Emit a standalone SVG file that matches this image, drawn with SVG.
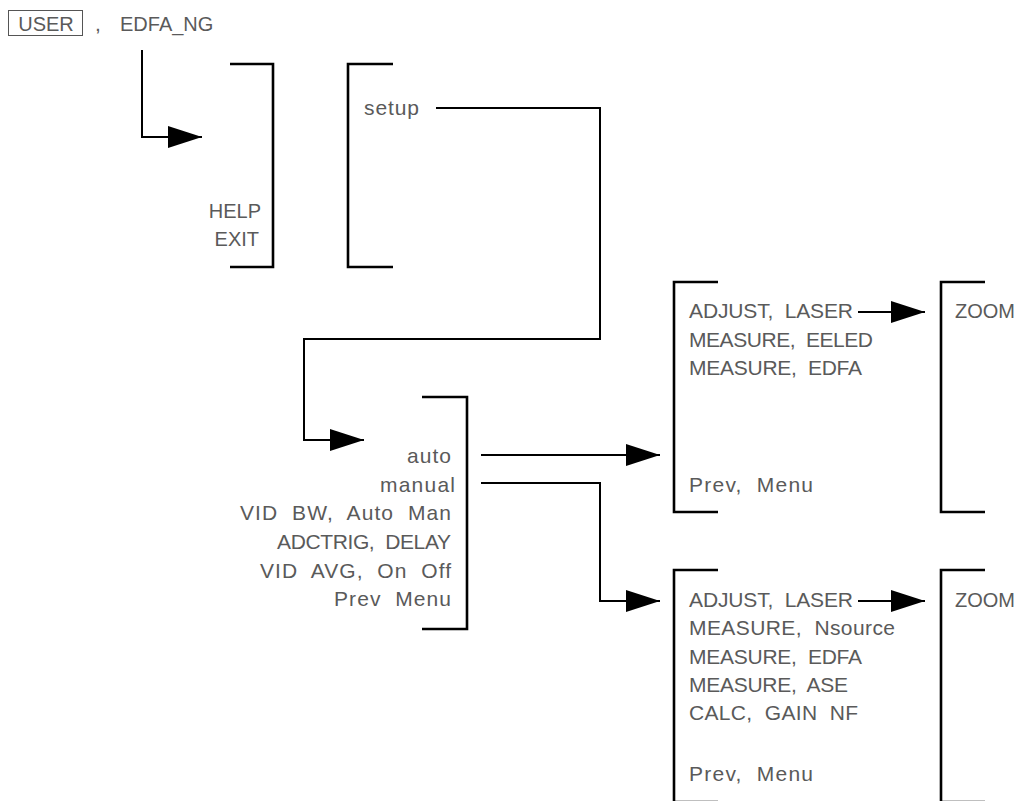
<svg xmlns="http://www.w3.org/2000/svg" width="1021" height="801" viewBox="0 0 1021 801">
<style>
text{font-family:"Liberation Sans",Arial,sans-serif;font-size:21px;fill:#5a5a5a;white-space:pre}
.s{font-size:20px}
.e{text-anchor:end}
.m{text-anchor:middle}
.br{fill:none;stroke:#000;stroke-width:2.6}
.cn{fill:none;stroke:#000;stroke-width:2}
</style>
<defs>
<marker id="ah" viewBox="0 0 34 22" refX="34" refY="11" markerWidth="34" markerHeight="22" markerUnits="userSpaceOnUse" orient="auto">
<path d="M0,0 L34,11 L0,22 Z" fill="#000"/>
</marker>
</defs>
<rect width="1021" height="801" fill="#fff"/>
<g id="title">
<rect x="8.5" y="10.5" width="74" height="25" fill="none" stroke="#555" stroke-width="1"/>
<text class="s m" x="46" y="31">USER</text>
<text x="95" y="31">,</text>
<text class="s" x="120" y="31">EDFA_NG</text>
</g>
<g id="menu-help">
<path class="br" d="M230,64 H273 V267 H230"/>
<text class="s e" x="261" y="218">HELP</text>
<text class="s e" x="259" y="246">EXIT</text>
</g>
<g id="menu-setup">
<path class="br" d="M393,64 H348 V267 H393"/>
<text x="364" y="115" textLength="55">setup</text>
</g>
<g id="menu-auto">
<path class="br" d="M422,397 H467 V629 H422"/>
<text class="e" x="451" y="463" textLength="44">auto</text>
<text class="e" x="455" y="492" textLength="75">manual</text>
<text class="e" x="451" y="520" textLength="211">VID  BW,  Auto  Man</text>
<text class="e" x="451" y="549" textLength="174">ADCTRIG,  DELAY</text>
<text class="e" x="451" y="578" textLength="191">VID  AVG,  On  Off</text>
<text class="e" x="451" y="606" textLength="117">Prev  Menu</text>
</g>
<g id="menu-auto-meas">
<path class="br" d="M718,282 H674 V512 H718"/>
<text x="689" y="318" textLength="164">ADJUST,  LASER</text>
<text x="689" y="347" textLength="184">MEASURE,  EELED</text>
<text x="689" y="375" textLength="173">MEASURE,  EDFA</text>
<text x="689" y="492" textLength="124">Prev,  Menu</text>
</g>
<g id="menu-auto-zoom">
<path class="br" d="M985,282 H941 V512 H985"/>
<text class="s" x="955" y="318">ZOOM</text>
</g>
<g id="menu-manual-meas">
<path class="br" d="M718,570 H674 V802 H718"/>
<text x="689" y="607" textLength="164">ADJUST,  LASER</text>
<text x="689" y="635" textLength="206">MEASURE,  Nsource</text>
<text x="689" y="664" textLength="173">MEASURE,  EDFA</text>
<text x="689" y="692" textLength="159">MEASURE,  ASE</text>
<text x="689" y="720" textLength="169">CALC,  GAIN  NF</text>
<text x="689" y="781" textLength="124">Prev,  Menu</text>
</g>
<g id="menu-manual-zoom">
<path class="br" d="M985,570 H941 V802 H985"/>
<text class="s" x="955" y="607">ZOOM</text>
</g>
<g id="connectors">
<path class="cn" d="M142,50 V137 H202" marker-end="url(#ah)"/>
<path class="cn" d="M436,108 H600 V339 H304 V440 H364" marker-end="url(#ah)"/>
<path class="cn" d="M481,455 H660" marker-end="url(#ah)"/>
<path class="cn" d="M481,483 H600 V601 H660" marker-end="url(#ah)"/>
<path class="cn" d="M858,312 H925" marker-end="url(#ah)"/>
<path class="cn" d="M858,601 H925" marker-end="url(#ah)"/>
</g>
</svg>
